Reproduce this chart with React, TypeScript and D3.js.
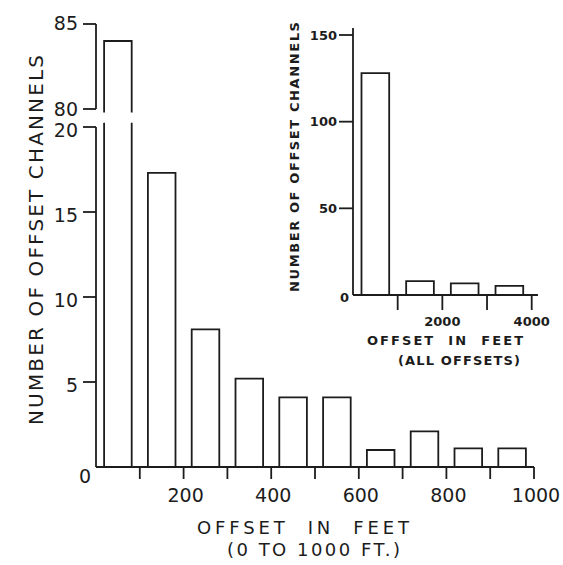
import React from "react";
import * as d3 from "d3";

// ---- Data ----
const mainBinStarts = [0, 100, 200, 300, 400, 500, 600, 700, 800, 900];
const mainCounts = [84, 17.3, 8.1, 5.2, 4.1, 4.1, 1, 2.1, 1.1, 1.1];
const mainLowerTicks = [5, 10, 15, 20];
const mainUpperTicks = [80, 85];
const mainXTicks = [100, 200, 300, 400, 500, 600, 700, 800, 900, 1000];
const mainXLabels = [200, 400, 600, 800, 1000];

const insetBinStarts = [0, 1000, 2000, 3000];
const insetCounts = [128, 8, 6.7, 5.3];
const insetYTicks = [50, 100, 150];
const insetXTicks = [1000, 2000, 3000, 4000];
const insetXLabels = [2000, 4000];

const W = 563;
const H = 565;
const INK = "#1c1c1c";
const FONT = "DejaVu Sans";

export default function App() {
  // main scales
  const xMain = d3.scaleLinear().domain([0, 1000]).range([96, 534]);
  const band = d3
    .scaleBand<number>()
    .domain(mainBinStarts)
    .range([96, 534])
    .paddingInner(0.37)
    .paddingOuter(0.185);
  const yLow = d3.scaleLinear().domain([0, 20]).range([467, 127]);
  const yUp = d3.scaleLinear().domain([80, 85]).range([109, 24]);
  const BREAK_LOW = 20.25;
  const BREAK_HIGH = 79.8;

  // inset scales
  const xIn = d3.scaleLinear().domain([0, 4000]).range([353, 531.7]);
  const bandIn = d3
    .scaleBand<number>()
    .domain(insetBinStarts)
    .range([353, 531.7])
    .paddingInner(0.38)
    .paddingOuter(0.19);
  const yIn = d3.scaleLinear().domain([0, 150]).range([295, 35]);

  const sw = 1.8;
  const base = yLow(0);

  return (
    <svg width={W} height={H} style={{ position: "absolute", left: 0, top: 0, background: "#fff" }}>
      <rect x={0} y={0} width={W} height={H} fill="#fff" />
      <g fill="none" stroke={INK} strokeWidth={sw}>
        {/* main bars */}
        {mainBinStarts.map((b, i) => {
          const x0 = band(b)!;
          const x1 = x0 + band.bandwidth();
          const v = mainCounts[i];
          if (v > 20) {
            const yb = yLow(BREAK_LOW);
            const yt = yUp(v);
            const ybu = yUp(BREAK_HIGH);
            return (
              <g key={b}>
                <path d={`M${x0},${base}V${yb}M${x1},${base}V${yb}`} />
                <path d={`M${x0},${ybu}V${yt}H${x1}V${ybu}`} />
              </g>
            );
          }
          const yt = yLow(v);
          return <path key={b} d={`M${x0},${base}V${yt}H${x1}V${base}`} />;
        })}
        {/* main y axis lower */}
        <path d={`M${xMain(0)},${base}V${yLow(20)}`} />
        {mainLowerTicks.map((t) => (
          <path key={t} d={`M${xMain(0) - 13},${yLow(t)}H${xMain(0)}`} />
        ))}
        {/* main y axis upper */}
        <path d={`M${xMain(0)},${yUp(80)}V${yUp(85)}`} />
        {mainUpperTicks.map((t) => (
          <path key={t} d={`M${xMain(0) - 13},${yUp(t)}H${xMain(0)}`} />
        ))}
        {/* main x axis */}
        <path d={`M${xMain(0)},${base}H${xMain(1000)}`} />
        {mainXTicks.map((t) => (
          <path key={t} d={`M${xMain(t)},${base}V${base + 12}`} />
        ))}

        {/* inset bars */}
        {insetBinStarts.map((b, i) => {
          const x0 = bandIn(b)!;
          const x1 = x0 + bandIn.bandwidth();
          return <path key={b} d={`M${x0},${yIn(0)}V${yIn(insetCounts[i])}H${x1}V${yIn(0)}`} />;
        })}
        <path d={`M${xIn(0)},${yIn(0)}V${yIn(154)}`} />
        {insetYTicks.map((t) => (
          <path key={t} d={`M${xIn(0) - 14},${yIn(t)}H${xIn(0)}`} />
        ))}
        <path d={`M${xIn(0)},${yIn(0)}H${xIn(4140)}`} />
        {insetXTicks.map((t) => (
          <path key={t} d={`M${xIn(t)},${yIn(0)}V${yIn(0) + 15}`} />
        ))}
      </g>

      {/* main text */}
      <g fill={INK} fontFamily={FONT} fontSize={19}>
        {mainLowerTicks.map((t) => (
          <text key={t} x={78} y={yLow(t) + 4} textAnchor="end" dominantBaseline="middle">
            {t}
          </text>
        ))}
        {mainUpperTicks.map((t) => (
          <text key={t} x={78} y={yUp(t) + (t === 85 ? 0 : 1)} textAnchor="end" dominantBaseline="middle">
            {t}
          </text>
        ))}
        <text x={85} y={477} textAnchor="middle" dominantBaseline="middle">0</text>
        {mainXLabels.map((t) => (
          <text key={t} x={xMain(t) + 2} y={496} textAnchor="middle" dominantBaseline="middle">
            {t}
          </text>
        ))}
        <text
          x={197}
          y={529}
          dominantBaseline="middle"
          fontSize={18}
          textLength={212}
          lengthAdjust="spacing"
          style={{ whiteSpace: "pre" }}
        >
          {"OFFSET  IN  FEET"}
        </text>
        <text x={227} y={551} dominantBaseline="middle" fontSize={18} textLength={173} lengthAdjust="spacing">
          (0 TO 1000 FT.)
        </text>
        <text
          transform="translate(37,240) rotate(-90)"
          textAnchor="middle"
          dominantBaseline="middle"
          fontSize={20}
          textLength={370}
          lengthAdjust="spacing"
        >
          NUMBER OF OFFSET CHANNELS
        </text>
      </g>

      {/* inset text */}
      <g fill={INK} fontFamily={FONT} fontWeight="bold" fontSize={13}>
        {insetYTicks.map((t) => (
          <text key={t} x={337} y={yIn(t) + 1} textAnchor="end" dominantBaseline="middle">
            {t}
          </text>
        ))}
        <text x={344.5} y={298} textAnchor="middle" dominantBaseline="middle">0</text>
        {insetXLabels.map((t) => (
          <text key={t} x={xIn(t)} y={322} textAnchor="middle" dominantBaseline="middle">
            {t}
          </text>
        ))}
        <text
          x={367}
          y={341}
          dominantBaseline="middle"
          textLength={156}
          lengthAdjust="spacing"
          style={{ whiteSpace: "pre" }}
        >
          {"OFFSET  IN  FEET"}
        </text>
        <text x={398} y={361} dominantBaseline="middle" textLength={122} lengthAdjust="spacing">
          (ALL OFFSETS)
        </text>
        <text
          transform="translate(295,157) rotate(-90)"
          textAnchor="middle"
          dominantBaseline="middle"
          textLength={270}
          lengthAdjust="spacing"
        >
          NUMBER OF OFFSET CHANNELS
        </text>
      </g>
    </svg>
  );
}
